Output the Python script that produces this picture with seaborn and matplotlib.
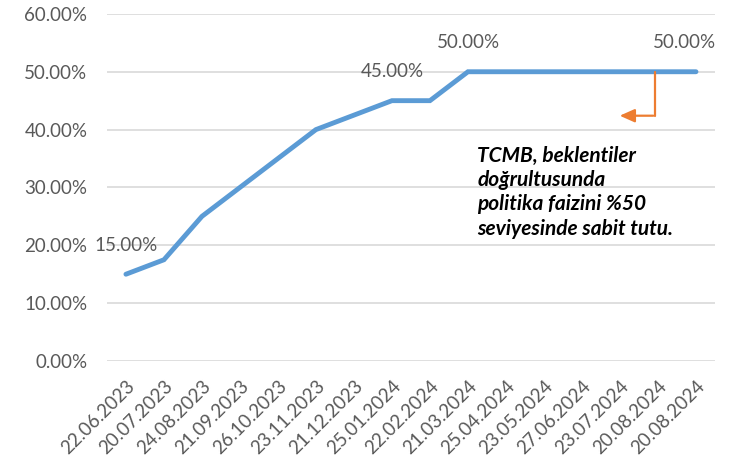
import numpy as np
import pandas as pd
import matplotlib
matplotlib.use("Agg")
import matplotlib.pyplot as plt
import seaborn as sns

# -----------------------------
# Data
# -----------------------------
dates = [
    "22.06.2023", "20.07.2023", "24.08.2023", "21.09.2023", "26.10.2023",
    "23.11.2023", "21.12.2023", "25.01.2024", "22.02.2024", "21.03.2024",
    "25.04.2024", "23.05.2024", "27.06.2024", "23.07.2024", "20.08.2024",
    "20.08.2024",
]
rates = [0.15, 0.175, 0.25, 0.30, 0.35, 0.40, 0.425, 0.45, 0.45, 0.50,
         0.50, 0.50, 0.50, 0.50, 0.50, 0.50]
labeled_points = [0, 7, 9, 15]
note = "TCMB, beklentiler\ndoğrultusunda\npolitika faizini %50\nseviyesinde sabit tutu."

df = pd.DataFrame({"idx": np.arange(len(dates)), "rate": rates})

# -----------------------------
# Plot
# -----------------------------
sns.set_style("white")
plt.rcParams["font.family"] = ["Lato", "DejaVu Sans"]

fig = plt.figure(figsize=(7.53, 4.63), dpi=100)
ax = fig.add_axes([0.142, 0.2203, 0.8075, 0.7497])

sns.lineplot(data=df, x="idx", y="rate", color="#5B9BD5", linewidth=3.5,
             solid_capstyle="round", solid_joinstyle="miter", ax=ax)

ax.set_xlim(-0.5, len(dates) - 0.5)
ax.set_ylim(0, 0.6)
ax.set_yticks(np.arange(0, 0.61, 0.1))
ax.set_yticklabels([f"{v * 100:.2f}%" for v in np.arange(0, 0.61, 0.1)])
ax.set_xticks(df["idx"])
ax.set_xticklabels(dates, rotation=45, ha="right", rotation_mode="anchor")
ax.tick_params(axis="both", length=0, labelsize=13.5, colors="#595959")
ax.tick_params(axis="y", pad=14)
ax.tick_params(axis="x", pad=12)
ax.grid(axis="y", color="#D9D9D9", linewidth=1.2)
ax.set_axisbelow(True)
ax.set_xlabel("")
ax.set_ylabel("")
for s in ax.spines.values():
    s.set_visible(False)

# data labels
for i in labeled_points:
    dx = -8 if i == len(dates) - 1 else 0
    ax.annotate(f"{rates[i] * 100:.2f}%", xy=(i, rates[i]), xytext=(dx, 21),
                textcoords="offset points", ha="center", va="center",
                fontsize=13.5, color="#595959")

# orange elbow arrow
ax.plot([13.92, 13.92], [0.50, 0.424], color="#ED7D31", linewidth=1.6)
ax.annotate("", xy=(12.92, 0.424), xytext=(13.95, 0.424),
            arrowprops=dict(arrowstyle="-|>,head_length=0.9,head_width=0.4",
                            color="#ED7D31", linewidth=1.6))

# note
ax.text(9.25, 0.372, note, ha="left", va="top", fontsize=15,
        fontweight="bold", fontstyle="italic", color="black",
        linespacing=1.27)

fig.savefig("out.png", dpi=100)
